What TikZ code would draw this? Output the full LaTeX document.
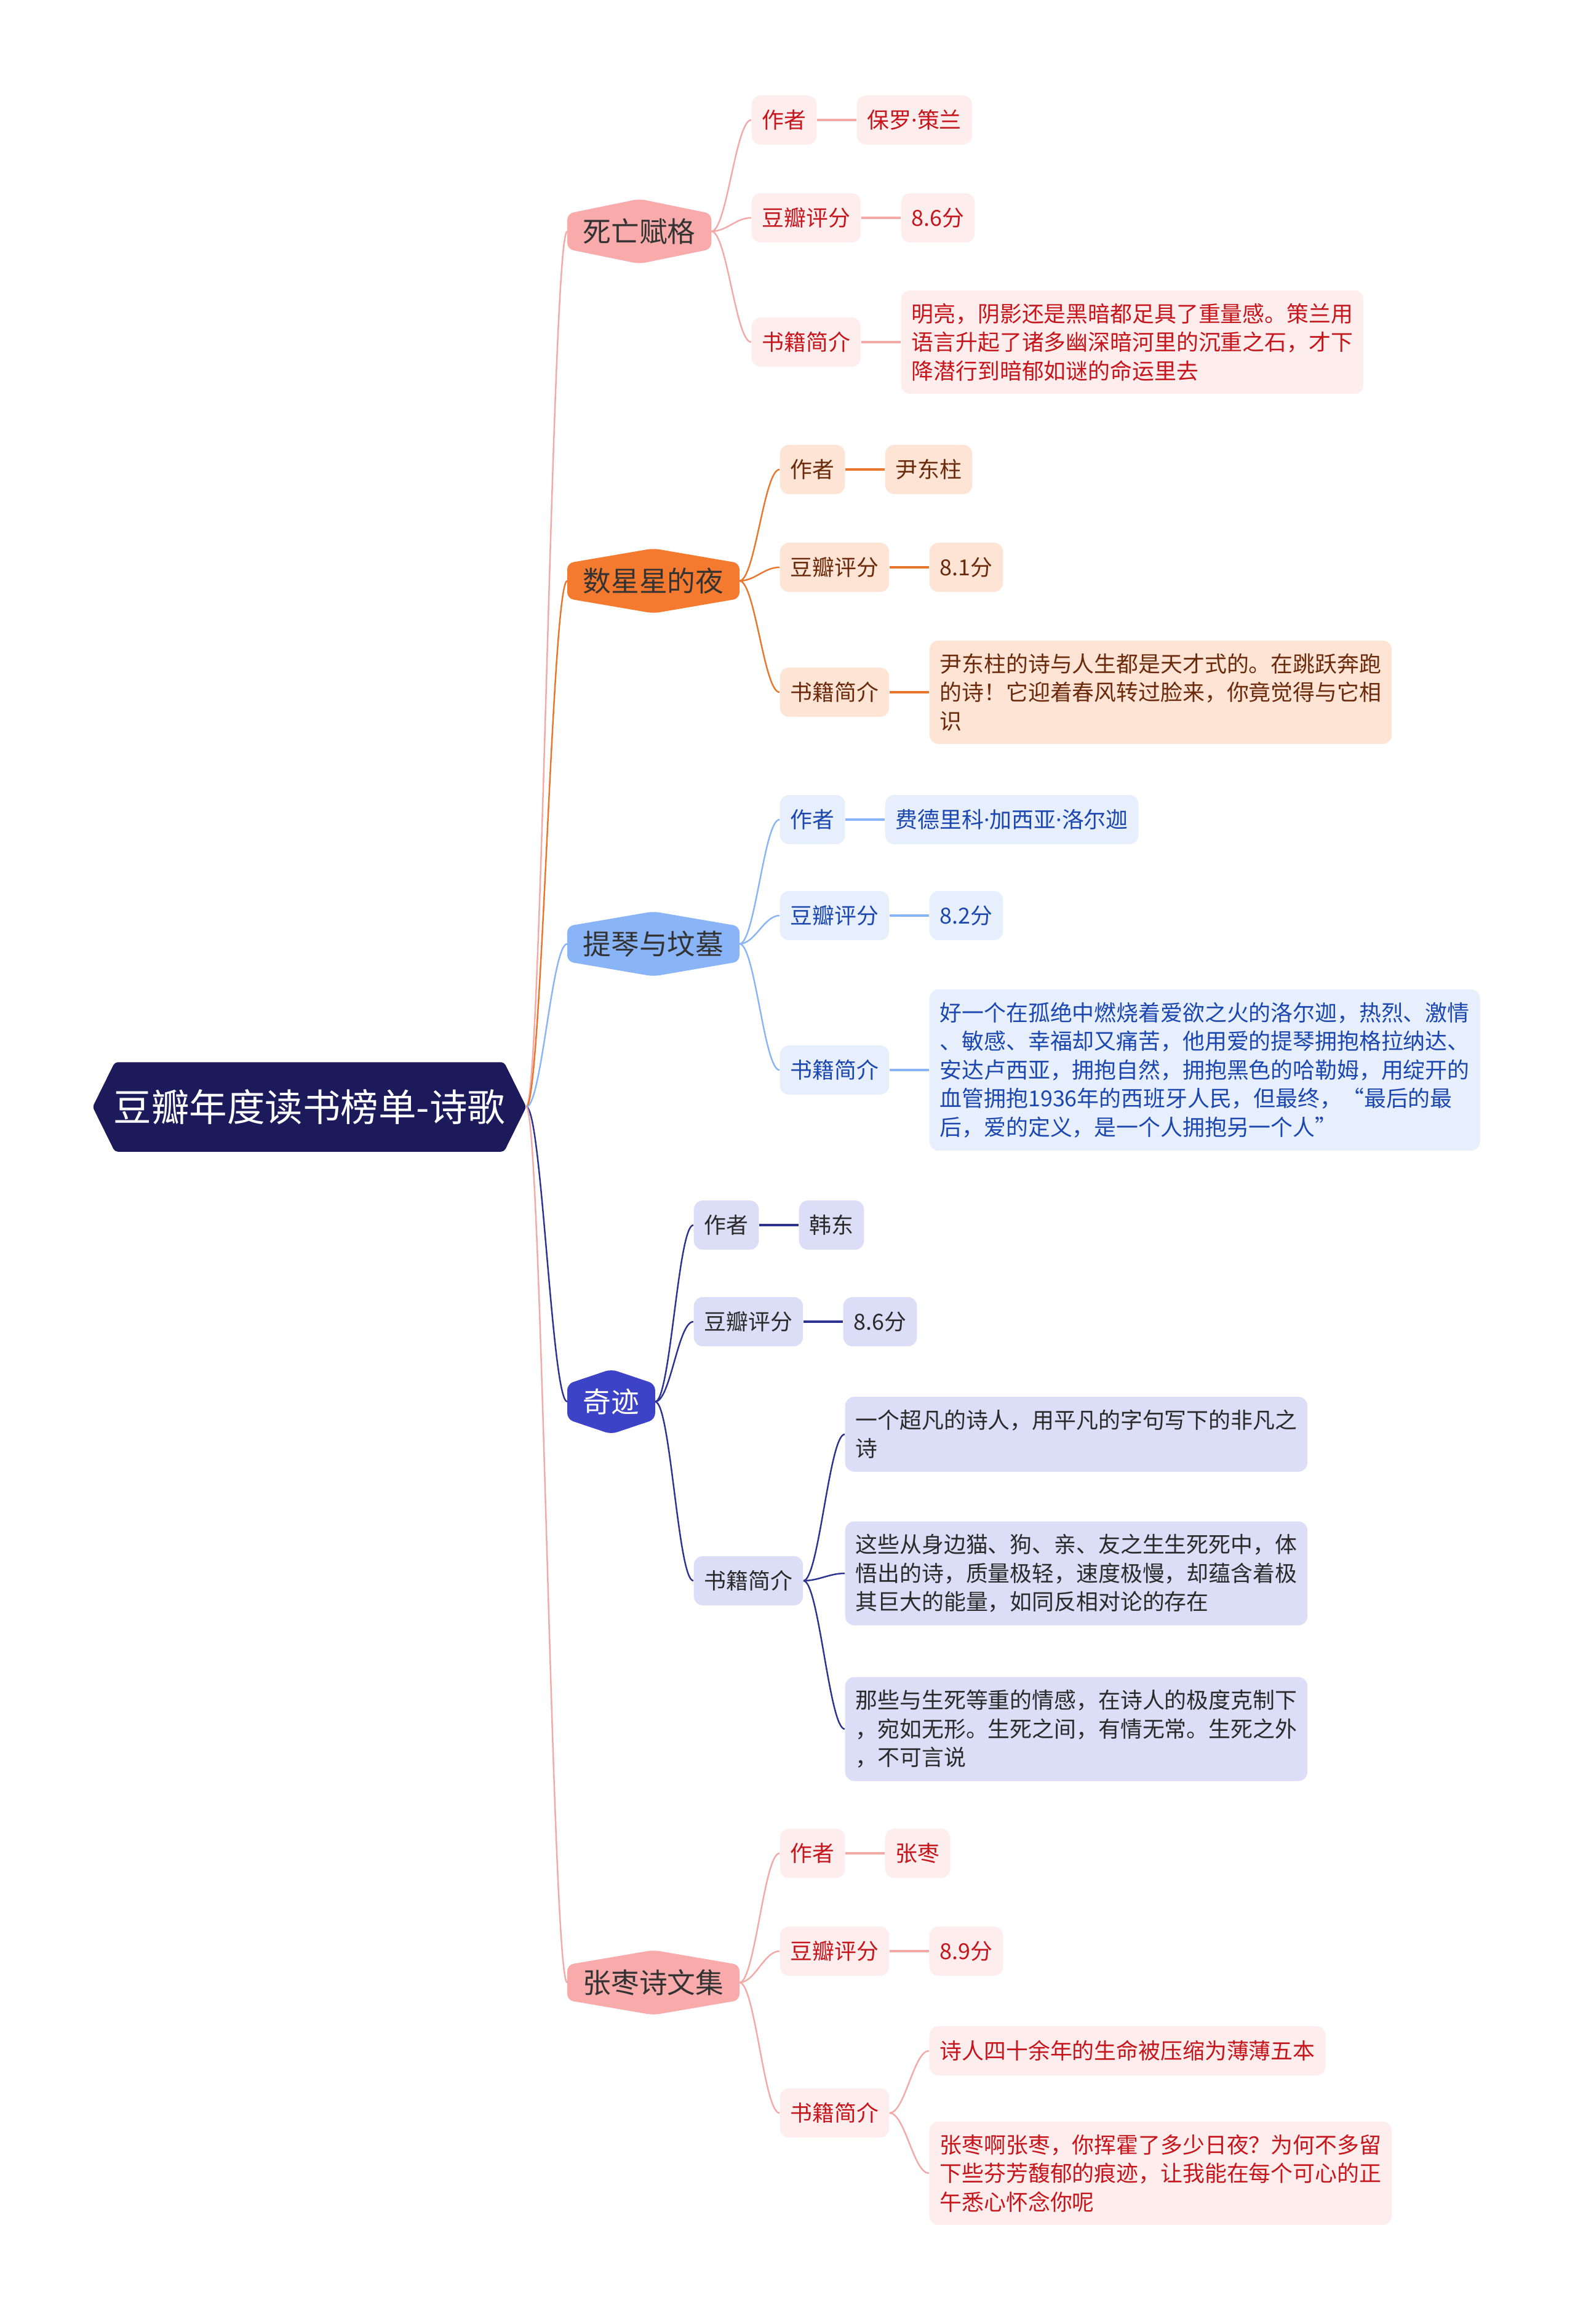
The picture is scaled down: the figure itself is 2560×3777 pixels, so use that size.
\documentclass[tikz,border=0pt]{standalone}
\usepackage{fontspec}
\setmainfont{Noto Sans CJK SC}
\newfontfamily\dotfont{Noto Sans}
\newcommand{\middot}{{\dotfont ·}}
\usetikzlibrary{calc, backgrounds}

% palette
\definecolor{rootnavy}{HTML}{1C1A5B}
\definecolor{hexpink}{HTML}{F8ABAA}
\definecolor{hexorange}{HTML}{F47A2F}
\definecolor{hexblue}{HTML}{8AB4F8}
\definecolor{hexindigo}{HTML}{3D43C7}
\definecolor{pinkbox}{HTML}{FDEDEC}
\definecolor{pinktext}{HTML}{C6161D}
\definecolor{pinkline}{HTML}{F3A9A6}
\definecolor{orangebox}{HTML}{FDE4D5}
\definecolor{orangetext}{HTML}{6A2A0B}
\definecolor{orangeline}{HTML}{E8772E}
\definecolor{bluebox}{HTML}{E7EFFD}
\definecolor{bluetext}{HTML}{1C47AE}
\definecolor{blueline}{HTML}{8AB4F8}
\definecolor{indigobox}{HTML}{DCDDF7}
\definecolor{indigotext}{HTML}{2A2A2A}
\definecolor{indigoline}{HTML}{2C3290}

\tikzset{
  rootbox/.style={minimum width=70.3mm, minimum height=14.4mm, inner sep=0pt,
    text=white, font=\fontsize{17.5}{21}\selectfont},
  bookbox/.style={anchor=west, minimum height=10.4mm, inner xsep=2.5mm, inner ysep=0pt,
    font=\fontsize{13}{16}\selectfont},
  tagbox/.style={anchor=west, rounded corners=1.5mm, fill=#1box, text=#1text,
    minimum height=8mm, inner xsep=1.7mm, inner ysep=2.1mm, align=left,
    font=\fontsize{10.2}{13.2}\selectfont},
  branch/.style={out=0, in=180, distance=2.5mm},
  curvelink/.style={#1line, line width=0.7pt},
  stublink/.style={#1line, line width=1.2pt}
}

\begin{document}
\begin{tikzpicture}[x=0.01cm, y=-0.01cm]
  \useasboundingbox (0,0) rectangle (2560,3777);

  % root
  \node[rootbox] (root) at (503,1799) {豆瓣年度读书榜单-诗歌};

  % books
  \node[bookbox, text=black!80] (book1) at (922,376) {死亡赋格};
  \node[bookbox, text=black!80] (book2) at (922,944) {数星星的夜};
  \node[bookbox, text=black!80] (book3) at (922,1534) {提琴与坟墓};
  \node[bookbox, text=white] (book4) at (922,2278) {奇迹};
  \node[bookbox, text=black!80] (book5) at (922,3222) {张枣诗文集};

  \begin{scope}[on background layer]
    \fill[rootnavy, rounded corners=0.5mm] (root.west) -- ($(root.north west)+(36,0)$)
      -- ($(root.north east)+(-36,0)$) -- (root.east) -- ($(root.south east)+(-36,0)$)
      -- ($(root.south west)+(36,0)$) -- cycle;
    \foreach \bk/\col in {book1/pink, book2/orange, book3/blue, book4/indigo, book5/pink}{
      \fill[hex\col, rounded corners=1mm] ($(\bk.north west)+(0,24)$) -- (\bk.north)
        -- ($(\bk.north east)+(0,24)$) -- ($(\bk.south east)+(0,-24)$) -- (\bk.south)
        -- ($(\bk.south west)+(0,-24)$) -- cycle;
    }
  \end{scope}

  % 死亡赋格
  \node[tagbox=pink] (b1au) at (1221,195) {作者};
  \node[tagbox=pink] (b1auv) at (1392,195) {保罗\middot 策兰};
  \node[tagbox=pink] (b1sc) at (1221,354) {豆瓣评分};
  \node[tagbox=pink] (b1scv) at (1464,354) {8.6分};
  \node[tagbox=pink] (b1in) at (1221,556) {书籍简介};
  \node[tagbox=pink] (b1inv) at (1464,556) {明亮，阴影还是黑暗都足具了重量感。策兰用\\语言升起了诸多幽深暗河里的沉重之石，才下\\降潜行到暗郁如谜的命运里去};

  % 数星星的夜
  \node[tagbox=orange] (b2au) at (1267,763) {作者};
  \node[tagbox=orange] (b2auv) at (1438,763) {尹东柱};
  \node[tagbox=orange] (b2sc) at (1267,922) {豆瓣评分};
  \node[tagbox=orange] (b2scv) at (1510,922) {8.1分};
  \node[tagbox=orange] (b2in) at (1267,1125) {书籍简介};
  \node[tagbox=orange] (b2inv) at (1510,1125) {尹东柱的诗与人生都是天才式的。在跳跃奔跑\\的诗！它迎着春风转过脸来，你竟觉得与它相\\识};

  % 提琴与坟墓
  \node[tagbox=blue] (b3au) at (1267,1332) {作者};
  \node[tagbox=blue] (b3auv) at (1438,1332) {费德里科\middot 加西亚\middot 洛尔迦};
  \node[tagbox=blue] (b3sc) at (1267,1488) {豆瓣评分};
  \node[tagbox=blue] (b3scv) at (1510,1488) {8.2分};
  \node[tagbox=blue] (b3in) at (1267,1739) {书籍简介};
  \node[tagbox=blue] (b3inv) at (1510,1739) {好一个在孤绝中燃烧着爱欲之火的洛尔迦，热烈、激情\\、敏感、幸福却又痛苦，他用爱的提琴拥抱格拉纳达、\\安达卢西亚，拥抱自然，拥抱黑色的哈勒姆，用绽开的\\血管拥抱1936年的西班牙人民，但最终，“最后的最\\后，爱的定义，是一个人拥抱另一个人”};

  % 奇迹
  \node[tagbox=indigo] (b4au) at (1127,1991) {作者};
  \node[tagbox=indigo] (b4auv) at (1298,1991) {韩东};
  \node[tagbox=indigo] (b4sc) at (1127,2148) {豆瓣评分};
  \node[tagbox=indigo] (b4scv) at (1370,2148) {8.6分};
  \node[tagbox=indigo] (b4in) at (1127,2569) {书籍简介};
  \node[tagbox=indigo] (b4inv1) at (1373,2331) {一个超凡的诗人，用平凡的字句写下的非凡之\\诗};
  \node[tagbox=indigo] (b4inv2) at (1373,2557) {这些从身边猫、狗、亲、友之生生死死中，体\\悟出的诗，质量极轻，速度极慢，却蕴含着极\\其巨大的能量，如同反相对论的存在};
  \node[tagbox=indigo] (b4inv3) at (1373,2810) {那些与生死等重的情感，在诗人的极度克制下\\，宛如无形。生死之间，有情无常。生死之外\\，不可言说};

  % 张枣诗文集
  \node[tagbox=pink] (b5au) at (1267,3012) {作者};
  \node[tagbox=pink] (b5auv) at (1438,3012) {张枣};
  \node[tagbox=pink] (b5sc) at (1267,3171) {豆瓣评分};
  \node[tagbox=pink] (b5scv) at (1510,3171) {8.9分};
  \node[tagbox=pink] (b5in) at (1267,3434) {书籍简介};
  \node[tagbox=pink] (b5inv1) at (1510,3333) {诗人四十余年的生命被压缩为薄薄五本};
  \node[tagbox=pink] (b5inv2) at (1510,3532) {张枣啊张枣，你挥霍了多少日夜？为何不多留\\下些芬芳馥郁的痕迹，让我能在每个可心的正\\午悉心怀念你呢};

  % root to books
  \draw[curvelink=pink] (root.east) to[branch] (book1.west);
  \draw[curvelink=orange] (root.east) to[branch] (book2.west);
  \draw[curvelink=blue] (root.east) to[branch] (book3.west);
  \draw[curvelink=indigo] (root.east) to[branch] (book4.west);
  \draw[curvelink=pink] (root.east) to[branch] (book5.west);

  % books to tags
  \foreach \bk/\col in {1/pink, 2/orange, 3/blue, 4/indigo, 5/pink}{
    \draw[curvelink=\col] (book\bk.east) to[branch] (b\bk au.west);
    \draw[curvelink=\col] (book\bk.east) to[branch] (b\bk sc.west);
    \draw[curvelink=\col] (book\bk.east) to[branch] (b\bk in.west);
    \draw[stublink=\col] (b\bk au) -- (b\bk auv);
    \draw[stublink=\col] (b\bk sc) -- (b\bk scv);
  }
  \draw[stublink=pink] (b1in) -- (b1inv);
  \draw[stublink=orange] (b2in) -- (b2inv);
  \draw[stublink=blue] (b3in) -- (b3inv);
  \draw[curvelink=indigo] (b4in.east) to[branch] (b4inv1.west);
  \draw[curvelink=indigo] (b4in.east) to[branch] (b4inv2.west);
  \draw[curvelink=indigo] (b4in.east) to[branch] (b4inv3.west);
  \draw[curvelink=pink] (b5in.east) to[branch] (b5inv1.west);
  \draw[curvelink=pink] (b5in.east) to[branch] (b5inv2.west);
\end{tikzpicture}
\end{document}
